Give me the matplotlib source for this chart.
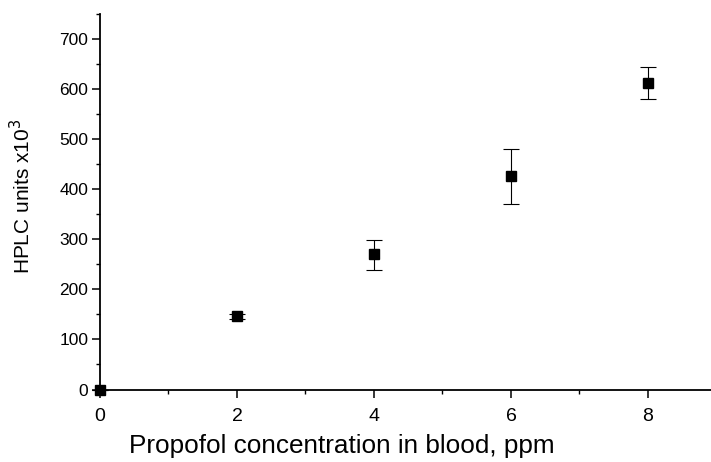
import matplotlib
matplotlib.use("Agg")
import matplotlib.pyplot as plt
from matplotlib.ticker import MultipleLocator

conc = [0, 2, 4, 6, 8]
hplc = [0, 146, 270, 427, 613]
err_low = [0, 5, 31, 56, 32]
err_high = [0, 5, 29, 54, 31]

plt.rcParams['font.family'] = ['Liberation Sans', 'DejaVu Sans']

fig = plt.figure(figsize=(7.11, 4.62), dpi=100)
ax = fig.add_axes([100/711, (462-389.5)/462, 611/711, 375.5/462])

ax.errorbar(conc, hplc, yerr=[err_low, err_high], fmt='s', color='black',
            markersize=6.8, ecolor='black', elinewidth=0.8, capsize=6, capthick=0.8,
            clip_on=False, zorder=3)

ax.set_xlim(0, 8.92)
ax.set_ylim(0, 750)
ax.xaxis.set_major_locator(MultipleLocator(2))
ax.xaxis.set_minor_locator(MultipleLocator(1))
ax.yaxis.set_major_locator(MultipleLocator(100))
ax.yaxis.set_minor_locator(MultipleLocator(50))

for s in ['top', 'right']:
    ax.spines[s].set_visible(False)
for s in ['left', 'bottom']:
    ax.spines[s].set_linewidth(1.3)

ax.tick_params(axis='both', which='major', direction='out', length=5.5, width=1.1)
ax.tick_params(axis='both', which='minor', direction='out', length=3, width=1.0)
ax.tick_params(axis='y', which='major', labelsize=12.5, pad=3)
ax.tick_params(axis='x', which='major', labelsize=14, pad=8)

ax.set_xlabel('Propofol concentration in blood, ppm', fontsize=18.8)
ax.set_ylabel('HPLC units x10$^3$', fontsize=15)
ax.xaxis.set_label_coords(0.396, -0.118)
ax.yaxis.set_label_coords(-0.107, 0.515)

fig.savefig('out.png', dpi=100)
